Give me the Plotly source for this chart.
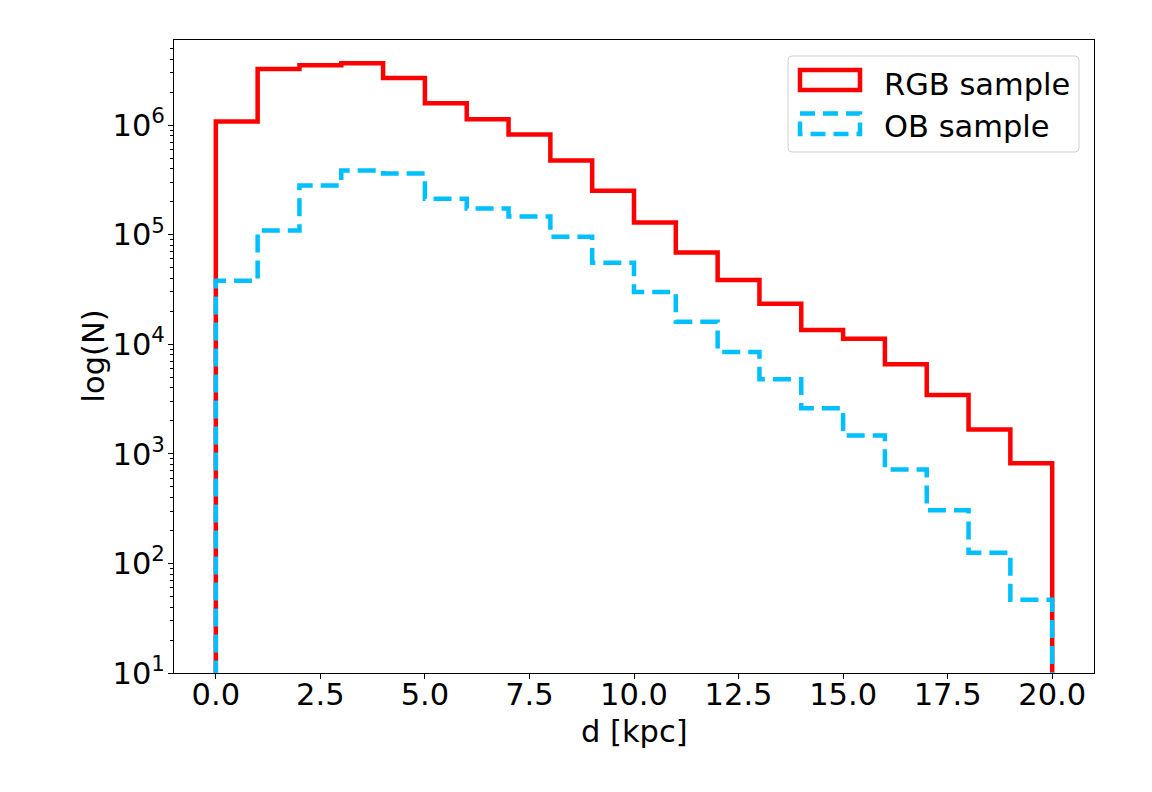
import plotly.graph_objects as go

# ---------------- data ----------------
bin_edges = list(range(0, 21))  # d [kpc], 1 kpc bins from 0 to 20
rgb_counts = [1.08e6, 3.24e6, 3.52e6, 3.67e6, 2.68e6, 1.58e6, 1.13e6, 8.2e5, 4.75e5, 2.52e5,
              1.29e5, 6.87e4, 3.86e4, 2.34e4, 1.35e4, 1.12e4, 6580, 3440, 1670, 820]
ob_counts = [3.79e4, 1.09e5, 2.81e5, 3.85e5, 3.61e5, 2.13e5, 1.73e5, 1.46e5, 9.57e4, 5.53e4,
             3.0e4, 1.60e4, 8510, 4790, 2600, 1470, 718, 306, 125, 46.6]
series_names = ["RGB sample", "OB sample"]
x_tick_vals = [0, 2.5, 5, 7.5, 10, 12.5, 15, 17.5, 20]
y_tick_exps = [1, 2, 3, 4, 5, 6]
x_title = "d [kpc]"
y_title = "log(N)"

FONT = "DejaVu Sans"
FS = 30.5
W, H = 1152, 792
L, R, T, B = 174, 1094, 40, 673  # plot area in pixels


def step_xy(edges, counts, floor=1.0):
    xs, ys = [edges[0]], [floor]
    for i, c in enumerate(counts):
        xs += [edges[i], edges[i + 1]]
        ys += [c, c]
    xs.append(edges[-1])
    ys.append(floor)
    return xs, ys


fig = go.Figure()
x1, y1 = step_xy(bin_edges, rgb_counts)
x2, y2 = step_xy(bin_edges, ob_counts)
fig.add_trace(go.Scatter(x=x1, y=y1, mode="lines", name=series_names[0],
                         line=dict(color="#ff0000", width=4.5), showlegend=False,
                         hoverinfo="skip"))
fig.add_trace(go.Scatter(x=x2, y=y2, mode="lines", name=series_names[1],
                         line=dict(color="#00bfff", width=4.5, dash="18px,8px"),
                         showlegend=False, hoverinfo="skip"))

minor_vals = [m * 10 ** e for e in range(1, 7) for m in range(2, 10)]

fig.update_layout(
    width=W, height=H,
    margin=dict(l=L, r=W - R, t=T, b=H - B),
    paper_bgcolor="white", plot_bgcolor="white",
    font=dict(family=FONT, size=FS, color="black"),
    xaxis=dict(range=[-1, 21], tickmode="array", tickvals=x_tick_vals,
               ticktext=[f"{v:.1f}" for v in x_tick_vals],
               ticks="outside", ticklen=5, tickwidth=1, tickcolor="black",
               ticklabelstandoff=-11,
               tickfont=dict(family=FONT, size=FS, color="black"),
               showline=True, linecolor="black", linewidth=1, mirror=True,
               showgrid=False, zeroline=False),
    yaxis=dict(type="log", range=[1, 6.776], tickmode="array",
               tickvals=[10 ** e for e in y_tick_exps],
               ticktext=[f"10<sup>{e}</sup>" for e in y_tick_exps],
               ticks="outside", ticklen=5, tickwidth=1, tickcolor="black",
               ticklabelstandoff=-3,
               tickfont=dict(family=FONT, size=FS, color="black"),
               minor=dict(tickmode="array", tickvals=minor_vals, ticks="outside",
                          ticklen=3, tickwidth=0.8, tickcolor="black", showgrid=False),
               showline=True, linecolor="black", linewidth=1, mirror=True,
               showgrid=False, zeroline=False),
    showlegend=False,
)


def px(xp):
    return (xp - L) / (R - L)


def py(yp):
    return (B - yp) / (B - T)


# axis titles
fig.add_annotation(xref="paper", yref="paper", x=0.5, y=py(731), text=x_title,
                   showarrow=False, xanchor="center", yanchor="middle",
                   font=dict(family=FONT, size=FS, color="black"))
fig.add_annotation(xref="paper", yref="paper", x=px(93), y=0.5, text=y_title,
                   showarrow=False, xanchor="center", yanchor="middle", textangle=-90,
                   font=dict(family=FONT, size=FS, color="black"))

# ---------------- custom matplotlib-style legend ----------------
lx0, lx1, ly0, ly1 = 788, 1079, 56, 152
r = 4
path = (f"M {px(lx0 + r)} {py(ly0)} L {px(lx1 - r)} {py(ly0)} "
        f"Q {px(lx1)} {py(ly0)} {px(lx1)} {py(ly0 + r)} "
        f"L {px(lx1)} {py(ly1 - r)} Q {px(lx1)} {py(ly1)} {px(lx1 - r)} {py(ly1)} "
        f"L {px(lx0 + r)} {py(ly1)} Q {px(lx0)} {py(ly1)} {px(lx0)} {py(ly1 - r)} "
        f"L {px(lx0)} {py(ly0 + r)} Q {px(lx0)} {py(ly0)} {px(lx0 + r)} {py(ly0)} Z")
fig.add_shape(type="path", xref="paper", yref="paper", path=path,
              fillcolor="rgba(255,255,255,0.8)", line=dict(color="#d0d0d0", width=1),
              layer="above")
fig.add_shape(type="rect", xref="paper", yref="paper",
              x0=px(800), x1=px(860), y0=py(70), y1=py(90),
              line=dict(color="#ff0000", width=4.5), fillcolor="rgba(0,0,0,0)", layer="above")
fig.add_shape(type="rect", xref="paper", yref="paper",
              x0=px(800), x1=px(860), y0=py(113.5), y1=py(134),
              line=dict(color="#00bfff", width=4.5, dash="15px,8px"),
              fillcolor="rgba(0,0,0,0)", layer="above")
for name, yc in zip(series_names, [84, 127]):
    fig.add_annotation(xref="paper", yref="paper", x=px(882), y=py(yc),
                       text=name, showarrow=False, xanchor="left", yanchor="middle",
                       font=dict(family=FONT, size=FS, color="black"))

fig.write_html("out.html")
